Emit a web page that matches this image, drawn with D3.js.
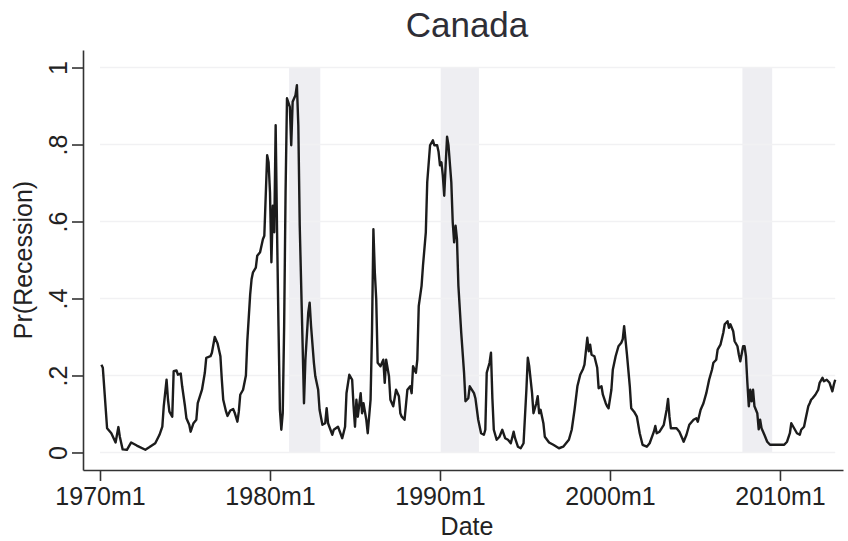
<!DOCTYPE html>
<html>
<head>
<meta charset="utf-8">
<script src="https://cdn.jsdelivr.net/npm/d3@7"></script>
<style>
  html, body { margin: 0; padding: 0; background: #fff; }
  svg { display: block; font-family: "Liberation Sans", Arial, Helvetica, sans-serif; }
</style>
</head>
<body>
<svg id="chart" width="848" height="541"></svg>
<script>
// Monthly dates in Stata %tm units (months since 1960m1) and the estimated recession probability.
const months = [
  121,122,125,128,131,133,134,136,139,142,146,152,155,159,162,164,165,167,168,169,
  171,172,174,175,177,178,180,181,183,184,186,188,189,192,194,195,198,199,201,203,
  205,206,207,209,210,212,214,215,217,218,219,221,223,224,226,227,228,230,231,233,
  235,236,238,239,240,241,242,243,244,245,246,247,248,249,250,251,252,254,255,256,
  258,259,260,261,263,264,265,267,268,269,271,272,274,275,277,279,280,281,284,285,
  288,291,293,294,296,298,299,300,301,302,304,305,306,308,309,311,312,313,314,315,
  316,318,320,321,322,324,325,327,329,331,332,333,335,337,339,340,341,343,344,345,
  347,348,350,351,353,355,356,358,359,360,361,362,363,364,365,366,368,369,370,371,
  372,373,375,377,378,380,381,384,385,387,389,391,392,393,395,396,397,398,400,402,
  404,406,408,410,412,413,415,417,419,421,422,423,425,426,428,429,430,431,433,434,
  437,440,444,447,449,451,453,455,457,459,461,462,464,465,466,467,469,471,472,474,
  475,477,478,479,481,482,484,486,488,489,490,492,494,495,497,499,501,503,506,508,
  511,512,513,515,518,520,521,522,523,527,529,531,532,534,536,539,541,542,544,546,
  548,550,552,553,555,556,558,560,561,563,564,565,567,568,570,571,572,574,575,576,
  577,578,579,580,581,582,584,585,586,587,589,591,593,596,600,603,605,607,608,610,
  612,614,615,617,618,620,621,622,623,625,627,628,630,631,633,635,637,638,639
];
const prRecession = [
  .228,.22,.063,.05,.026,.066,.041,.008,.007,.026,.018,.007,.014,.024,.046,.067,.12,.189,.137,.106,
  .093,.211,.213,.202,.205,.172,.12,.089,.072,.054,.076,.085,.128,.163,.207,.246,.25,.259,.30,.283,
  .25,.189,.137,.106,.095,.109,.113,.104,.08,.106,.15,.163,.20,.29,.41,.45,.468,.48,.511,.52,
  .554,.563,.772,.754,.676,.494,.641,.572,.85,.572,.328,.111,.059,.102,.33,.676,.92,.898,.798,.911,
  .928,.954,.85,.589,.285,.128,.241,.363,.389,.328,.233,.198,.163,.111,.072,.076,.115,.076,.046,.059,
  .067,.037,.067,.154,.202,.189,.12,.067,.137,.093,.154,.102,.128,.085,.05,.137,.311,.58,.468,.398,
  .233,.224,.241,.181,.241,.198,.137,.12,.163,.146,.102,.093,.085,.163,.172,.154,.224,.207,.241,.38,
  .433,.485,.572,.702,.798,.811,.798,.798,.781,.746,.754,.72,.667,.746,.82,.798,.702,.598,.546,.589,
  .554,.433,.311,.207,.133,.141,.172,.154,.141,.085,.05,.046,.059,.207,.233,.259,.14,.059,.033,.041,
  .059,.037,.033,.024,.054,.037,.015,.011,.024,.163,.246,.224,.154,.102,.128,.146,.102,.111,.076,.041,
  .026,.02,.011,.015,.024,.033,.059,.111,.172,.202,.217,.228,.298,.263,.28,.254,.25,.22,.167,.172,
  .15,.128,.12,.115,.163,.215,.25,.276,.285,.294,.328,.254,.172,.115,.106,.093,.05,.02,.015,.024,
  .054,.069,.05,.054,.072,.111,.139,.093,.063,.063,.054,.037,.028,.046,.072,.085,.089,.08,.111,.128,
  .154,.189,.215,.233,.241,.267,.28,.311,.333,.341,.324,.333,.315,.289,.276,.254,.237,.276,.276,.25,
  .181,.12,.163,.133,.163,.12,.102,.06,.085,.063,.046,.028,.02,.02,.02,.02,.028,.05,.076,.063,
  .05,.046,.059,.067,.085,.12,.128,.137,.141,.15,.163,.181,.194,.185,.189,.181,.159,.176,.189
];

// Recession periods (first and last month, %tm units)
const recessionStart = [254, 361, 574];
const recessionEnd   = [275, 387, 594];

// Axis ticks and labels
const xTickMonths = [120, 240, 360, 480, 600];
const xTickLabels = ["1970m1", "1980m1", "1990m1", "2000m1", "2010m1"];
const yTickValues = [0, .2, .4, .6, .8, 1];
const yTickLabels = ["0", ".2", ".4", ".6", ".8", "1"];

const titleText = "Canada";
const xTitle = "Date";
const yTitle = "Pr(Recession)";

const svg = d3.select("#chart");

// Axis frame: y axis at x=83, x axis at y=470
const x = d3.scaleLinear().domain([108, 644.5]).range([83, 843]);
const y = d3.scaleLinear().domain([-0.0455, 1.0455]).range([470, 50]);

const plot = svg.append("g");

// Recession shading
plot.selectAll("rect.rec")
  .data(recessionStart.map((s, i) => ({ s, e: recessionEnd[i] })))
  .join("rect")
  .attr("class", "rec")
  .attr("x", d => x(d.s - 0.5))
  .attr("width", d => x(d.e + 0.5) - x(d.s - 0.5))
  .attr("y", y(1))
  .attr("height", y(0) - y(1))
  .attr("fill", "#eeeef2");

// Horizontal gridlines
plot.selectAll("line.grid")
  .data(yTickValues)
  .join("line")
  .attr("class", "grid")
  .attr("x1", x(120))
  .attr("x2", x(639))
  .attr("y1", d => y(d))
  .attr("y2", d => y(d))
  .attr("stroke", "#f1f1f3")
  .attr("stroke-width", 1.5);

// Probability series
const series = months.map((m, i) => ({ m, v: prRecession[i] }));
plot.append("path")
  .datum(series)
  .attr("fill", "none")
  .attr("stroke", "#1c1c1c")
  .attr("stroke-width", 2.4)
  .attr("stroke-linejoin", "round")
  .attr("d", d3.line().x(d => x(d.m)).y(d => y(d.v)));

// X axis
const xAxis = svg.append("g")
  .attr("transform", "translate(0,470)")
  .call(d3.axisBottom(x)
    .tickValues(xTickMonths)
    .tickFormat((d, i) => xTickLabels[i])
    .tickSize(11)
    .tickSizeOuter(0));
xAxis.selectAll("text")
  .attr("y", 35)
  .attr("dy", 0)
  .attr("fill", "#222")
  .style("font-size", "25px")
  .style("font-family", "'Liberation Sans', Arial, sans-serif");

// Y axis
const yAxis = svg.append("g")
  .attr("transform", "translate(83,0)")
  .call(d3.axisLeft(y)
    .tickValues(yTickValues)
    .tickFormat((d, i) => yTickLabels[i])
    .tickSize(11)
    .tickSizeOuter(0));
yAxis.selectAll("text")
  .attr("x", 0)
  .attr("y", -16)
  .attr("dy", 0)
  .attr("text-anchor", "middle")
  .attr("transform", "rotate(-90)")
  .attr("fill", "#222")
  .style("font-size", "25px")
  .style("font-family", "'Liberation Sans', Arial, sans-serif");

[xAxis, yAxis].forEach(g => {
  g.select(".domain").attr("stroke", "#333").attr("stroke-width", 1.6);
  g.selectAll(".tick line").attr("stroke", "#333").attr("stroke-width", 1.6);
});

// Titles
svg.append("text")
  .attr("x", 467)
  .attr("y", 37)
  .attr("text-anchor", "middle")
  .attr("fill", "#2e2e36")
  .style("font-size", "35px")
  .text(titleText);

svg.append("text")
  .attr("x", 467)
  .attr("y", 535)
  .attr("text-anchor", "middle")
  .attr("fill", "#222")
  .style("font-size", "25px")
  .text(xTitle);

svg.append("text")
  .attr("transform", `translate(32,${(y(0) + y(1)) / 2}) rotate(-90)`)
  .attr("text-anchor", "middle")
  .attr("fill", "#222")
  .style("font-size", "25px")
  .text(yTitle);
</script>
</body>
</html>
